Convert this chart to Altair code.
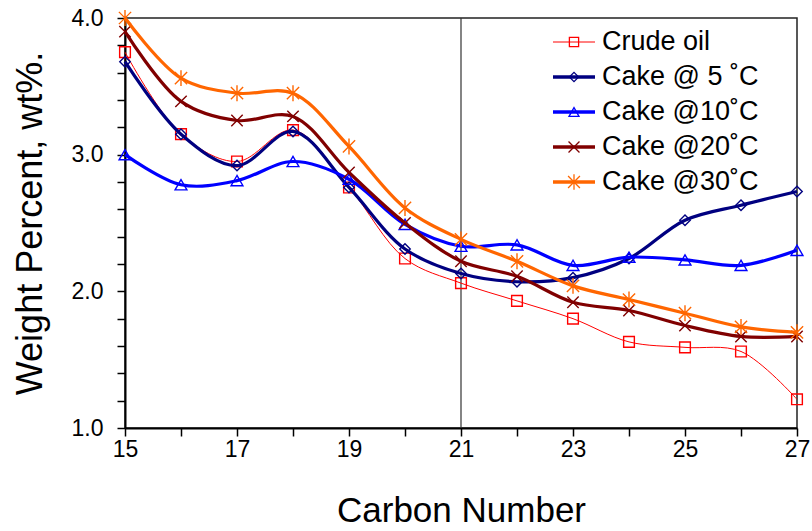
import altair as alt
import pandas as pd

# Carbon numbers on the x axis
carbon = [15, 16, 17, 18, 19, 20, 21, 22, 23, 24, 25, 26, 27]

# Weight percent for each sample
crude_oil = [3.75, 3.15, 2.95, 3.18, 2.76, 2.24, 2.06, 1.93, 1.80, 1.63, 1.59, 1.56, 1.21]
cake_5 = [3.68, 3.15, 2.92, 3.17, 2.76, 2.31, 2.13, 2.07, 2.10, 2.24, 2.52, 2.63, 2.73]
cake_10 = [3.00, 2.78, 2.81, 2.95, 2.82, 2.49, 2.33, 2.34, 2.19, 2.25, 2.23, 2.19, 2.30]
cake_20 = [3.90, 3.39, 3.25, 3.28, 2.87, 2.50, 2.22, 2.11, 1.92, 1.86, 1.75, 1.67, 1.67]
cake_30 = [4.00, 3.56, 3.45, 3.45, 3.06, 2.61, 2.38, 2.22, 2.04, 1.94, 1.84, 1.74, 1.70]

names = ["Crude oil", "Cake @ 5 \u02daC", "Cake @10\u02daC", "Cake @20\u02daC", "Cake @30\u02daC"]
series = [crude_oil, cake_5, cake_10, cake_20, cake_30]

colors = ["#FF0000", "#000080", "#0000FF", "#800000", "#FF6600"]
shapes = [
    "square",
    "diamond",
    "triangle-up",
    "M-1,-1L1,1M-1,1L1,-1",
    "M-1,-1L1,1M-1,1L1,-1M0,-1.3L0,1.3",
]
line_widths = [1, 3.2, 3.2, 3.2, 3.2]
marker_sizes = [115, 110, 140, 130, 150]
legend_sizes = [85, 85, 100, 120, 140]

FONT = "Liberation Sans"

x_scale = alt.Scale(domain=[15, 27], nice=False, zero=False)
y_scale = alt.Scale(domain=[1.0, 4.0], nice=False, zero=False)

x_axis = alt.Axis(
    values=carbon,
    format="d",
    labelExpr="datum.value % 2 == 1 ? datum.label : ''",
    labelOverlap=False,
    labelFlush=False,
    title="Carbon Number",
    grid=False,
    tickSize=8,
    tickWidth=1.5,
    tickColor="black",
    domainColor="black",
    domainWidth=2,
    labelPadding=2,
    labelFontSize=23,
    labelFont=FONT,
    labelColor="black",
    titleFontSize=35,
    titleFont=FONT,
    titleFontWeight="normal",
    titleColor="black",
    titlePadding=32,
)

y_ticks = [round(1.0 + 0.2 * i, 1) for i in range(16)]
y_axis = alt.Axis(
    values=y_ticks,
    format=".1f",
    labelExpr="abs(datum.value - round(datum.value)) < 0.01 ? datum.label : ''",
    labelOverlap=False,
    labelFlush=False,
    title="Weight Percent, wt%.",
    grid=False,
    tickSize=8,
    tickWidth=1.5,
    tickColor="black",
    domainColor="black",
    domainWidth=2,
    labelPadding=14,
    labelFontSize=23,
    labelFont=FONT,
    labelColor="black",
    titleFontSize=36,
    titleFont=FONT,
    titleFontWeight="normal",
    titleColor="black",
    titlePadding=22,
)

layers = []

# Reference line at C21
layers.append(
    alt.Chart(pd.DataFrame({"carbon": [21]}))
    .mark_rule(color="#333333", strokeWidth=1.2)
    .encode(x=alt.X("carbon:Q", scale=x_scale, axis=x_axis))
)

for name, vals, col, shp, lw, ms in zip(names, series, colors, shapes, line_widths, marker_sizes):
    df = pd.DataFrame({"carbon": carbon, "value": vals, "name": name})
    base = alt.Chart(df)
    layers.append(
        base.mark_line(interpolate="catmull-rom", clip=False, color=col, strokeWidth=lw).encode(
            x=alt.X("carbon:Q", scale=x_scale, axis=x_axis),
            y=alt.Y("value:Q", scale=y_scale, axis=y_axis),
        )
    )
    layers.append(
        base.mark_point(
            filled=False, strokeWidth=1.4, opacity=1, clip=False,
            color=col, shape=shp, size=ms,
        ).encode(
            x=alt.X("carbon:Q", scale=x_scale, axis=x_axis),
            y=alt.Y("value:Q", scale=y_scale, axis=y_axis),
        )
    )

plot = alt.layer(*layers)

# Legend drawn inside the plot, top right
leg_scale = alt.Scale(domain=[0, 4], range=[24, 164], nice=False, zero=False)
leg_layers = []
for i, (name, col, shp, lw, ls) in enumerate(zip(names, colors, shapes, line_widths, legend_sizes)):
    row = alt.Chart(pd.DataFrame({"idx": [i], "name": [name]}))
    leg_y = alt.Y("idx:Q", scale=leg_scale, axis=None)
    leg_layers.append(
        row.mark_rule(color=col, strokeWidth=1 if lw < 2 else 3.5).encode(
            x=alt.value(428), x2=alt.value(470), y=leg_y
        )
    )
    leg_layers.append(
        row.mark_point(filled=False, strokeWidth=1.3, opacity=1, color=col, shape=shp, size=ls).encode(
            x=alt.value(449), y=leg_y
        )
    )
    leg_layers.append(
        row.mark_text(align="left", baseline="middle", fontSize=27, font=FONT, color="black").encode(
            x=alt.value(477), y=leg_y, text="name:N"
        )
    )
legend = alt.layer(*leg_layers)

chart = (
    alt.layer(plot, legend)
    .resolve_scale(y="independent")
    .properties(
        width=672,
        height=410,
        autosize=alt.AutoSizeParams(type="none"),
        padding={"left": 125, "top": 18, "right": 15, "bottom": 103},
        background="white",
    )
    .configure_view(stroke="#222222", strokeWidth=1.5)
)

chart.save("out.html", embed_options={"renderer": "svg", "actions": False})
